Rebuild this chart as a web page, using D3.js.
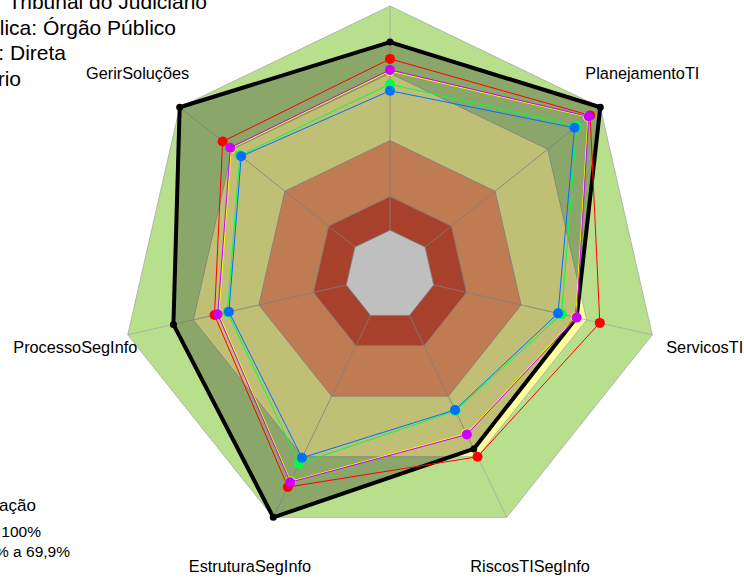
<!DOCTYPE html>
<html>
<head>
<meta charset="utf-8">
<script src="https://cdn.jsdelivr.net/npm/d3@7"></script>
<style>
  body { margin: 0; background: #fff; }
  text { font-family: "Liberation Sans", Arial, sans-serif; fill: #000; }
</style>
</head>
<body>
<div id="chart"></div>
<script>
// axis names, clockwise from the top (top one sits above the visible area)
const axes = ["GovernancaTI", "PlanejamentoTI", "ServicosTI", "RiscosTISegInfo",
              "EstruturaSegInfo", "ProcessoSegInfo", "GerirSoluções"];

// series values in %
const serieBlack   = [83.9, 100, 65.4, 66.1, 100, 79.1, 100];
const serieRed     = [76.4, 94.2, 76.0, 70.0, 85.0, 60.3, 75.5];
const serieYellow  = [71.0, 93.0, 65.0, 58.6, 82.2, 58.3, 70.6];
const serieMagenta = [71.5, 93.4, 65.4, 59.0, 82.6, 58.8, 71.1];
const serieGreen   = [65.1, 86.6, 58.5, 47.3, 73.4, 54.4, 65.6];
const serieBlue    = [62.2, 85.3, 56.9, 46.8, 70.5, 53.7, 64.9];

// classification bands (upper limit in %)
const bandLimits = [100, 70, 40, 15, 0];
const bandColors = ["#b8df8c", "#ffff9e", "#ffa46e", "#e0573a", "#ffffff"];

const titleLines = ["Tribunal do Judiciário", "Natureza Pública: Órgão Público",
                    "Administração: Direta", "Poder: Judiciário"];
const legendTitle = "Faixa de classificação";
const legendItems = ["Aprimorado: 70% a 100%", "Intermediário: 40% a 69,9%"];

var width = 744, height = 578,
    cx = 390, cy = 275, R = 269;

var svg = d3.select("#chart").append("svg")
    .attr("width", width)
    .attr("height", height);

var n = axes.length;
var angle = d3.scaleLinear().domain([0, n]).range([-Math.PI / 2, 1.5 * Math.PI]);
// fmsb style: value 0 starts at 1/6 of the radius
var r = d3.scaleLinear().domain([0, 100]).range([R / 6, R]);

function pt(i, v) {
    return [cx + r(v) * Math.cos(angle(i)), cy + r(v) * Math.sin(angle(i))];
}

var ring = d3.line().curve(d3.curveLinearClosed);

// bands
svg.append("g").selectAll("path")
    .data(bandLimits).enter()
    .append("path")
    .attr("d", function(v) { return ring(axes.map(function(a, i) { return pt(i, v); })); })
    .attr("fill", function(d, i) { return bandColors[i]; })
    .attr("stroke", "#a8a8a8")
    .attr("stroke-width", 0.8);

// radial axes
svg.append("g").selectAll("line")
    .data(axes).enter()
    .append("line")
    .attr("x1", function(d, i) { return pt(i, 0)[0]; })
    .attr("y1", function(d, i) { return pt(i, 0)[1]; })
    .attr("x2", function(d, i) { return pt(i, 100)[0]; })
    .attr("y2", function(d, i) { return pt(i, 100)[1]; })
    .attr("stroke", "#a8a8a8")
    .attr("stroke-width", 0.8);

var series = [
    {values: serieBlack,   color: "#000000", width: 4,   dot: 3.5, fill: "rgba(0,0,0,0.25)"},
    {values: serieRed,     color: "#ff0000", width: 1,   dot: 5,   fill: "none"},
    {values: serieYellow,  color: "#ffff00", width: 1,   dot: 5,   fill: "none"},
    {values: serieMagenta, color: "#cc00ff", width: 1,   dot: 5,   fill: "none"},
    {values: serieGreen,   color: "#00ff40", width: 1,   dot: 5,   fill: "none"},
    {values: serieBlue,    color: "#0070ff", width: 1,   dot: 5,   fill: "none"}
];

var sg = svg.append("g").selectAll("g")
    .data(series).enter()
    .append("g");

sg.append("path")
    .attr("d", function(s) { return ring(s.values.map(function(v, i) { return pt(i, v); })); })
    .attr("fill", function(s) { return s.fill; })
    .attr("stroke", function(s) { return s.color; })
    .attr("stroke-width", function(s) { return s.width; })
    .attr("stroke-linejoin", "round");

sg.selectAll("circle")
    .data(function(s) { return s.values.map(function(v, i) { return {i: i, v: v, s: s}; }); })
    .enter()
    .append("circle")
    .attr("cx", function(d) { return pt(d.i, d.v)[0]; })
    .attr("cy", function(d) { return pt(d.i, d.v)[1]; })
    .attr("r", function(d) { return d.s.dot; })
    .attr("fill", function(d) { return d.s.color; });

// axis labels at 1.2 R
svg.append("g").selectAll("text")
    .data(axes).enter()
    .append("text")
    .attr("x", function(d, i) { return cx + 1.2 * R * Math.cos(angle(i)); })
    .attr("y", function(d, i) { return cy + 1.2 * R * Math.sin(angle(i)); })
    .attr("dy", "0.35em")
    .attr("text-anchor", "middle")
    .style("font-size", "16.3px")
    .text(function(d) { return d; });

// title (cut at the left edge)
var titleEnds = [207, 176, 66, 21];
svg.append("g").selectAll("text")
    .data(titleLines).enter()
    .append("text")
    .attr("x", function(d, i) { return titleEnds[i]; })
    .attr("y", function(d, i) { return 9 + i * 25.6; })
    .attr("text-anchor", "end")
    .style("font-size", "21px")
    .text(function(d) { return d; });

// legend (cut at left and bottom)
svg.append("text")
    .attr("x", 36)
    .attr("y", 511)
    .attr("text-anchor", "end")
    .style("font-size", "17px")
    .text(legendTitle);

var legendEnds = [41, 70];
svg.append("g").selectAll("text")
    .data(legendItems).enter()
    .append("text")
    .attr("x", function(d, i) { return legendEnds[i]; })
    .attr("y", function(d, i) { return 537 + i * 19.5; })
    .attr("text-anchor", "end")
    .style("font-size", "15.5px")
    .text(function(d) { return d; });
</script>
</body>
</html>
